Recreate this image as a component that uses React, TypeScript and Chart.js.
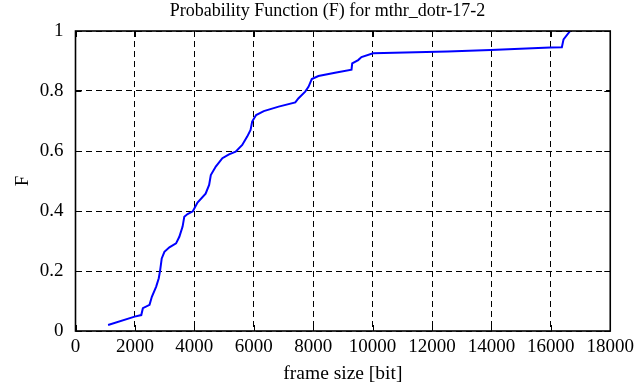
import React, { useEffect, useRef } from "react";
import { Chart, registerables } from "chart.js";

Chart.register(...registerables);

const frameSizes = [
  1097, 1990, 2214, 2268, 2492, 2570, 2716, 2803, 2850, 2903, 2993, 3161, 3385,
  3495, 3605, 3662, 3773, 3950, 4107, 4380, 4498, 4555, 4722, 4944, 5167, 5391,
  5612, 5779, 5893, 5947, 6080, 6338, 6839, 7398, 7508, 7732, 7843, 7953, 8177,
  8736, 9291, 9314, 9515, 9626, 10017, 12525, 13973, 15980, 16371, 16428, 16650,
];
const probabilities = [
  0.02, 0.048, 0.053, 0.076, 0.087, 0.114, 0.148, 0.176, 0.203, 0.242, 0.264,
  0.279, 0.292, 0.314, 0.348, 0.381, 0.39, 0.399, 0.428, 0.458, 0.487, 0.52,
  0.548, 0.576, 0.589, 0.598, 0.62, 0.648, 0.67, 0.698, 0.72, 0.733, 0.748,
  0.762, 0.776, 0.798, 0.814, 0.84, 0.85, 0.861, 0.871, 0.892, 0.903, 0.913,
  0.926, 0.932, 0.937, 0.945, 0.946, 0.972, 1.0,
];
const xTicks = [0, 2000, 4000, 6000, 8000, 10000, 12000, 14000, 16000, 18000];
const yTicks = [0, 0.2, 0.4, 0.6, 0.8, 1];

const chartTitle = "Probability Function (F) for mthr_dotr-17-2";
const xTitle = "frame size [bit]";
const yTitle = "F";

const FONT = "'Liberation Serif', 'DejaVu Serif', serif";

const borderTicks = {
  id: "borderTicks",
  afterDatasetsDraw(chart: any) {
    const { ctx, chartArea: a, scales } = chart;
    const len = 6;
    ctx.save();
    ctx.strokeStyle = "#000";
    ctx.lineWidth = 1;
    ctx.setLineDash([]);
    ctx.beginPath();
    for (const v of xTicks) {
      const px = Math.round(scales.x.getPixelForValue(v)) + 0.5;
      ctx.moveTo(px, a.bottom);
      ctx.lineTo(px, a.bottom - len);
      ctx.moveTo(px, a.top);
      ctx.lineTo(px, a.top + len);
    }
    for (const v of yTicks) {
      const py = Math.round(scales.y.getPixelForValue(v)) + 0.5;
      ctx.moveTo(a.left, py);
      ctx.lineTo(a.left + len, py);
      ctx.moveTo(a.right, py);
      ctx.lineTo(a.right - len, py);
    }
    ctx.stroke();
    ctx.lineWidth = 1.6;
    ctx.strokeRect(a.left, a.top, a.right - a.left, a.bottom - a.top);
    ctx.restore();
  },
};

const titleText = {
  id: "titleText",
  afterDraw(chart: any) {
    const { ctx } = chart;
    ctx.save();
    ctx.fillStyle = "#000";
    ctx.font = `18px ${FONT}`;
    ctx.textAlign = "center";
    ctx.textBaseline = "middle";
    ctx.fillText(chartTitle, 327.5, 10.8);
    ctx.restore();
  },
};

export default function App() {
  const ref = useRef<HTMLCanvasElement | null>(null);

  useEffect(() => {
    document.body.style.margin = "0";
    const canvas = ref.current;
    if (!canvas) return;
    const data = frameSizes.map((x, i) => ({ x, y: probabilities[i] }));
    const chart = new Chart(canvas, {
      type: "line",
      data: {
        datasets: [
          {
            data,
            borderColor: "#0000ff",
            borderWidth: 2,
            pointRadius: 0,
            tension: 0,
            fill: false,
          },
        ],
      },
      options: {
        animation: false,
        responsive: false,
        maintainAspectRatio: false,
        layout: { padding: { left: 0, right: 26, top: 31, bottom: 0 } },
        plugins: {
          legend: { display: false },
          tooltip: { enabled: false },
          title: { display: false },
        },
        scales: {
          x: {
            type: "linear",
            min: 0,
            max: 18000,
            afterBuildTicks(scale: any) {
              scale.ticks = xTicks.map((v) => ({ value: v }));
            },
            afterFit(scale: any) {
              scale.height = 56;
            },
            ticks: {
              color: "#000",
              font: { family: FONT, size: 19 },
              padding: 5,
              maxRotation: 0,
              autoSkip: false,
              callback: (v: any) => String(v),
            },
            grid: {
              color: "#000",
              lineWidth: 1,
              drawTicks: false,
            },
            border: { display: false, dash: [6, 4] },
            title: {
              display: true,
              text: xTitle,
              color: "#000",
              font: { family: FONT, size: 19.5 },
              padding: { top: 0, bottom: 1.3 },
            },
          },
          y: {
            type: "linear",
            min: 0,
            max: 1,
            afterBuildTicks(scale: any) {
              scale.ticks = yTicks.map((v) => ({ value: v }));
            },
            afterFit(scale: any) {
              scale.width = 75.5;
            },
            ticks: {
              color: "#000",
              font: { family: FONT, size: 19 },
              padding: 12,
              autoSkip: false,
              callback: (v: any) => String(Math.round(Number(v) * 10) / 10),
            },
            grid: {
              color: "#000",
              lineWidth: 1,
              drawTicks: false,
            },
            border: { display: false, dash: [6, 4] },
            title: {
              display: true,
              text: yTitle,
              color: "#000",
              font: { family: FONT, size: 19 },
              padding: { top: 12, bottom: 0 },
            },
          },
        },
      },
      plugins: [borderTicks, titleText],
    });
    return () => chart.destroy();
  }, []);

  return <canvas ref={ref} width={639} height={387} style={{ display: "block" }} />;
}
